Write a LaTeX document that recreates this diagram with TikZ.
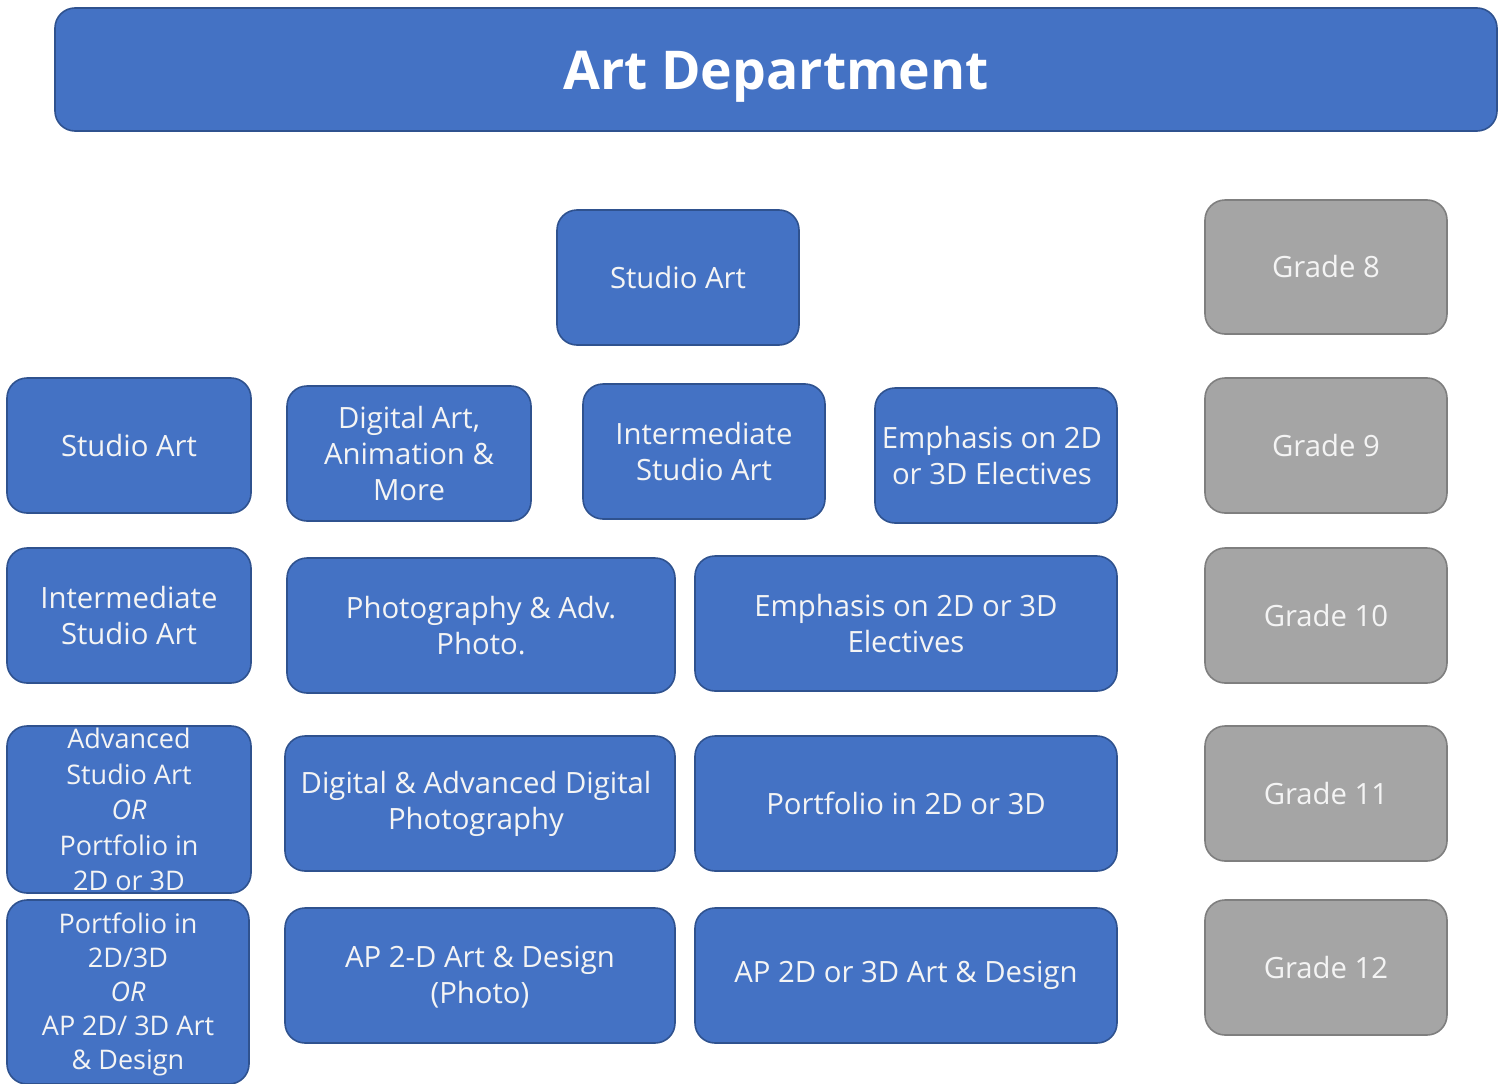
\documentclass[tikz,border=0pt]{standalone}
\usepackage{fontspec}
\setmainfont{Open Sans}
\definecolor{boxblue}{HTML}{4472C4}
\definecolor{boxblueedge}{HTML}{2F528F}
\definecolor{boxgray}{HTML}{A5A5A5}
\definecolor{boxgrayedge}{HTML}{7F7F7F}
\definecolor{txtw}{HTML}{F4F4F4}
\tikzset{
  base/.style={rounded corners=20pt, line width=1.6pt, align=center, inner sep=0pt,
    font=\fontsize{29.3}{36}\selectfont, text=txtw},
  bbox/.style={base, fill=boxblue, draw=boxblueedge},
  gbox/.style={base, fill=boxgray, draw=boxgrayedge, text=txtw},
  sz/.style 2 args={minimum width=#1pt, minimum height=#2pt},
  txt/.style={font=\fontsize{29.3}{36}\selectfont, text=txtw, align=center, inner sep=0pt},
}
\begin{document}
\begin{tikzpicture}[x=1pt,y=1pt]
\useasboundingbox (0,0) rectangle (1502,-1084);
% title
\node[bbox, sz={1442}{123}] (title) at (776,-69.5) {};
\node[font=\bfseries\fontsize{53.5}{60}\selectfont, text=white, yshift=-7pt] (titlet) at (title.center) {Art Department};
% grade 8
\node[bbox, sz={242}{135}] (s8) at (678,-277.5) {Studio Art};
\node[gbox, sz={242}{134}] (g8) at (1326,-267) {Grade 8};
% grade 9
\node[bbox, sz={244}{135}] (s9a) at (129,-445.5) {Studio Art};
\node[bbox, sz={244}{135}] (s9b) at (409,-453.5) {Digital Art,\\Animation \&\\More};
\node[bbox, sz={242}{135}] (s9c) at (704,-451.5) {Intermediate\\Studio Art};
\node[bbox, sz={242}{135}] (s9d) at (996,-455.5) {};
\node[txt, xshift=-4pt] (s9dt) at (s9d.center) {Emphasis on 2D\\or 3D Electives};
\node[gbox, sz={242}{135}] (g9) at (1326,-445.5) {Grade 9};
% grade 10
\node[bbox, sz={244}{135}] (s10a) at (129,-615.5) {Intermediate\\Studio Art};
\node[bbox, sz={388}{135}] (s10b) at (481,-625.5) {Photography \& Adv.\\Photo.};
\node[bbox, sz={422}{135}] (s10c) at (906,-623.5) {Emphasis on 2D or 3D\\Electives};
\node[gbox, sz={242}{135}] (g10) at (1326,-615.5) {Grade 10};
% grade 11
\node[bbox, sz={244}{167}] (s11a) at (129,-809.5) {};
\node[font=\fontsize{27}{35.5}\selectfont, text=txtw, align=center] (s11at) at (s11a.center) {Advanced\\Studio Art\\\textit{OR}\\Portfolio in\\2D or 3D};
\node[bbox, sz={390}{135}] (s11b) at (480,-803.5) {};
\node[txt, xshift=-4pt] (s11bt) at (s11b.center) {Digital \& Advanced Digital\\Photography};
\node[bbox, sz={422}{135}] (s11c) at (906,-803.5) {Portfolio in 2D or 3D};
\node[gbox, sz={242}{135}] (g11) at (1326,-793.5) {Grade 11};
% grade 12
\node[bbox, sz={242}{184}] (s12a) at (128,-992) {};
\node[font=\fontsize{27}{34}\selectfont, text=txtw, align=center, yshift=-2pt] (s12at) at (s12a.center) {Portfolio in\\2D/3D\\\textit{OR}\\AP 2D/ 3D Art\\\& Design};
\node[bbox, sz={390}{135}] (s12b) at (480,-975.5) {};
\node[txt, yshift=-2pt] (s12bt) at (s12b.center) {AP 2-D Art \& Design\\(Photo)};
\node[bbox, sz={422}{135}] (s12c) at (906,-975.5) {AP 2D or 3D Art \& Design};
\node[gbox, sz={242}{135}] (g12) at (1326,-967.5) {Grade 12};
\end{tikzpicture}
\end{document}
